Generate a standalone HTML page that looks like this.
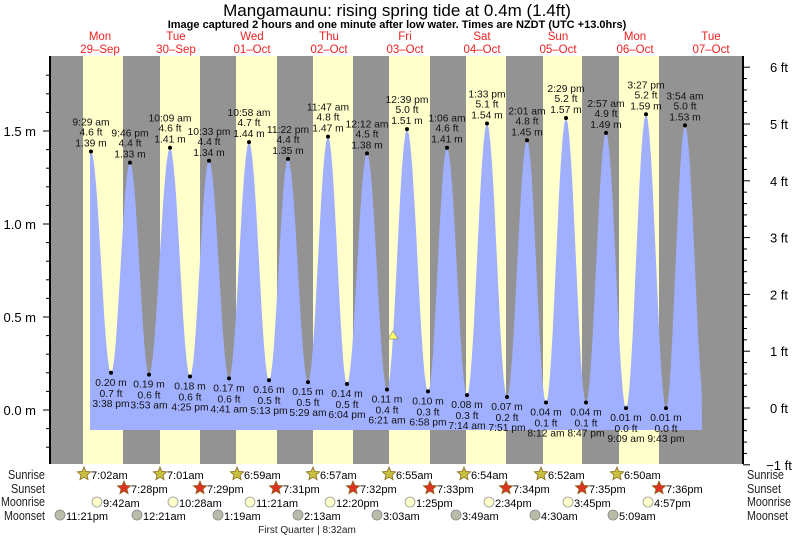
<!DOCTYPE html>
<html><head><meta charset="utf-8"><style>
body{margin:0;background:#fff;}
svg{display:block;font-family:"Liberation Sans",sans-serif;}
</style></head><body>
<svg id="s" width="793" height="537" xmlns="http://www.w3.org/2000/svg"></svg>
<script>
const s=document.getElementById('s');let h='';
h+='<rect x="0" y="0" width="793" height="537" fill="#fff"/>';
const b=[50,83,123,160,200,236,277,313,353,389,430,466,506,543,582,619,659,743];
for(let i=0;i<b.length-1;i++){h+=`<rect x="${b[i]}" y="56" width="${b[i+1]-b[i]}" height="408" fill="${i%2?'#ffffcc':'#939393'}"/>`;}
const Y=m=>410-m*186;
const P=[[91,1.39,'9:29 am','4.6 ft'],[111,0.20,'3:38 pm','0.7 ft'],[130,1.33,'9:46 pm','4.4 ft'],[149,0.19,'3:53 am','0.6 ft'],[170,1.41,'10:09 am','4.6 ft'],[190,0.18,'4:25 pm','0.6 ft'],[209,1.34,'10:33 pm','4.4 ft'],[229,0.17,'4:41 am','0.6 ft'],[249,1.44,'10:58 am','4.7 ft'],[269,0.16,'5:13 pm','0.5 ft'],[288,1.35,'11:22 pm','4.4 ft'],[308,0.15,'5:29 am','0.5 ft'],[328,1.47,'11:47 am','4.8 ft'],[347,0.14,'6:04 pm','0.5 ft'],[367,1.38,'12:12 am','4.5 ft'],[387,0.11,'6:21 am','0.4 ft'],[407,1.51,'12:39 pm','5.0 ft'],[428,0.10,'6:58 pm','0.3 ft'],[447,1.41,'1:06 am','4.6 ft'],[467,0.08,'7:14 am','0.3 ft'],[487,1.54,'1:33 pm','5.1 ft'],[507,0.07,'7:51 pm','0.2 ft'],[527,1.45,'2:01 am','4.8 ft'],[546,0.04,'8:12 am','0.1 ft'],[566,1.57,'2:29 pm','5.2 ft'],[586,0.04,'8:47 pm','0.1 ft'],[606,1.49,'2:57 am','4.9 ft'],[626,0.01,'9:09 am','0.0 ft'],[646,1.59,'3:27 pm','5.2 ft'],[666,0.01,'9:43 pm','0.0 ft'],[685,1.53,'3:54 am','5.0 ft']];
let d=`M90,430 L90,${Y(1.39)}`;
for(let i=0;i<P.length-1;i++){const [x0,m0]=P[i],[x1,m1]=P[i+1];for(let k=1;k<=12;k++){const t=k/12;const m=m0+(m1-m0)*(1-Math.cos(Math.PI*t))/2;d+=` L${(x0+(x1-x0)*t).toFixed(1)},${Y(m).toFixed(1)}`;}}
{const [x0,m0]=P[P.length-1];const x1=705;for(let k=1;k<=12;k++){const t=k/12;const x=x0+(x1-x0)*t;if(x>702)break;const m=m0*(1+Math.cos(Math.PI*t))/2;d+=` L${x.toFixed(1)},${Y(m).toFixed(1)}`;}}
d+=' L702,430 Z';
h+=`<path d="${d}" fill="#a0b0ff"/>`;
P.forEach((p,i)=>{const [x,m,t,f]=p;const y=Y(m);h+=`<circle cx="${x}" cy="${y}" r="2" fill="#000"/>`;
const st='font-size="10.3" text-anchor="middle" fill="#111"';
if(i%2==0){h+=`<text x="${x}" y="${y-26}" ${st}>${t}</text><text x="${x}" y="${y-16}" ${st}>${f}</text><text x="${x}" y="${y-5}" ${st}>${m.toFixed(2)} m</text>`;}
else{h+=`<text x="${x}" y="${y+13}" ${st}>${m.toFixed(2)} m</text><text x="${x}" y="${y+24}" ${st}>${f}</text><text x="${x}" y="${y+34}" ${st}>${t}</text>`;}});
h+='<polygon points="393,331 388,339 398,339" fill="#ffff66" stroke="#888" stroke-width="0.7"/>';
h+='<line x1="50" y1="56" x2="50" y2="464" stroke="#000" stroke-width="2"/><line x1="743" y1="56" x2="743" y2="464" stroke="#000" stroke-width="2"/>';
for(let m=-0.2;m<=1.9;m+=0.1){const y=Y(m);if(y<56||y>464)continue;h+=`<line x1="${Math.abs(m*2-Math.round(m*2))<0.01?43:46}" y1="${y}" x2="50" y2="${y}" stroke="#000"/>`;}
[['1.5 m',1.5],['1.0 m',1.0],['0.5 m',0.5],['0.0 m',0]].forEach(a=>h+=`<text x="36" y="${Y(a[1])+5}" font-size="13" text-anchor="end">${a[0]}</text>`);
const F=f=>408-f*56.8;
for(let f=-1;f<=6.61;f+=0.2){const y=F(f);if(y<56||y>465)continue;h+=`<line x1="743" y1="${y}" x2="${Math.abs(f-Math.round(f))<0.01?750:747}" y2="${y}" stroke="#000"/>`;}
[6,5,4,3,2,1,0,-1].forEach(f=>h+=`<text x="779" y="${F(f)+5}" font-size="13" text-anchor="middle">${f<0?'\u22121':f} ft</text>`);
h+='<text x="397" y="16" font-size="17" text-anchor="middle">Mangamaunu: rising  spring tide at 0.4m (1.4ft)</text>';
h+='<text x="397" y="28" font-size="11" font-weight="bold" text-anchor="middle">Image captured 2 hours and one minute after low water. Times are NZDT (UTC +13.0hrs)</text>';
[['Mon','29\u2013Sep',100],['Tue','30\u2013Sep',176],['Wed','01\u2013Oct',252],['Thu','02\u2013Oct',329],['Fri','03\u2013Oct',405],['Sat','04\u2013Oct',482],['Sun','05\u2013Oct',558],['Mon','06\u2013Oct',635],['Tue','07\u2013Oct',711]].forEach(a=>{h+=`<text x="${a[2]}" y="40" font-size="11.5" fill="#ee2222" text-anchor="middle">${a[0]}</text><text x="${a[2]}" y="53" font-size="11.5" fill="#ee2222" text-anchor="middle">${a[1]}</text>`;});
['Sunrise','Sunset','Moonrise','Moonset'].forEach((n,i)=>{const y=[119,133,146,160][i]+360;const tl=[37,34,44,41][i];h+=`<text x="${45-tl}" y="${y}" font-size="13" fill="#222" textLength="${tl}" lengthAdjust="spacingAndGlyphs">${n}</text><text x="747" y="${y}" font-size="13" fill="#222" textLength="${tl}" lengthAdjust="spacingAndGlyphs">${n}</text>`;});
function star(cx,cy,fill){let p='';for(let k=0;k<10;k++){const r=k%2?3.2:7;const a=-Math.PI/2+k*Math.PI/5;p+=`${(cx+r*Math.cos(a)).toFixed(1)},${(cy+r*Math.sin(a)).toFixed(1)} `;}return `<polygon points="${p}" fill="${fill}" stroke="#8a6a20" stroke-width="0.8"/>`;}
const sr=[84,160,237,313,389,464,541,617],srt=['7:02am','7:01am','6:59am','6:57am','6:55am','6:54am','6:52am','6:50am'];
sr.forEach((x,i)=>{h+=star(x,474,'#c8c040')+`<text x="${x+7}" y="479" font-size="11">${srt[i]}</text>`;});
const ss=[124,200,276,353,430,506,582,659],sst=['7:28pm','7:29pm','7:31pm','7:32pm','7:33pm','7:34pm','7:35pm','7:36pm'];
ss.forEach((x,i)=>{h+=star(x,488,'#dd3322')+`<text x="${x+7}" y="493" font-size="11">${sst[i]}</text>`;});
const mr=[97,173,250,330,410,489,568,648],mrt=['9:42am','10:28am','11:21am','12:20pm','1:25pm','2:34pm','3:45pm','4:57pm'];
mr.forEach((x,i)=>{h+=`<circle cx="${x}" cy="502" r="5" fill="#ffffcc" stroke="#999" stroke-width="0.8"/><text x="${x+6}" y="507" font-size="11">${mrt[i]}</text>`;});
const ms=[60,137,218,298,377,456,535,613],mst=['11:21pm','12:21am','1:19am','2:13am','3:03am','3:49am','4:30am','5:09am'];
ms.forEach((x,i)=>{h+=`<circle cx="${x}" cy="515" r="5" fill="#bbbbaa" stroke="#888" stroke-width="0.8"/><text x="${x+6}" y="520" font-size="11">${mst[i]}</text>`;});
h+='<text x="307" y="533" font-size="10" text-anchor="middle" fill="#222">First Quarter | 8:32am</text>';
s.innerHTML=h;
</script>
</body></html>
